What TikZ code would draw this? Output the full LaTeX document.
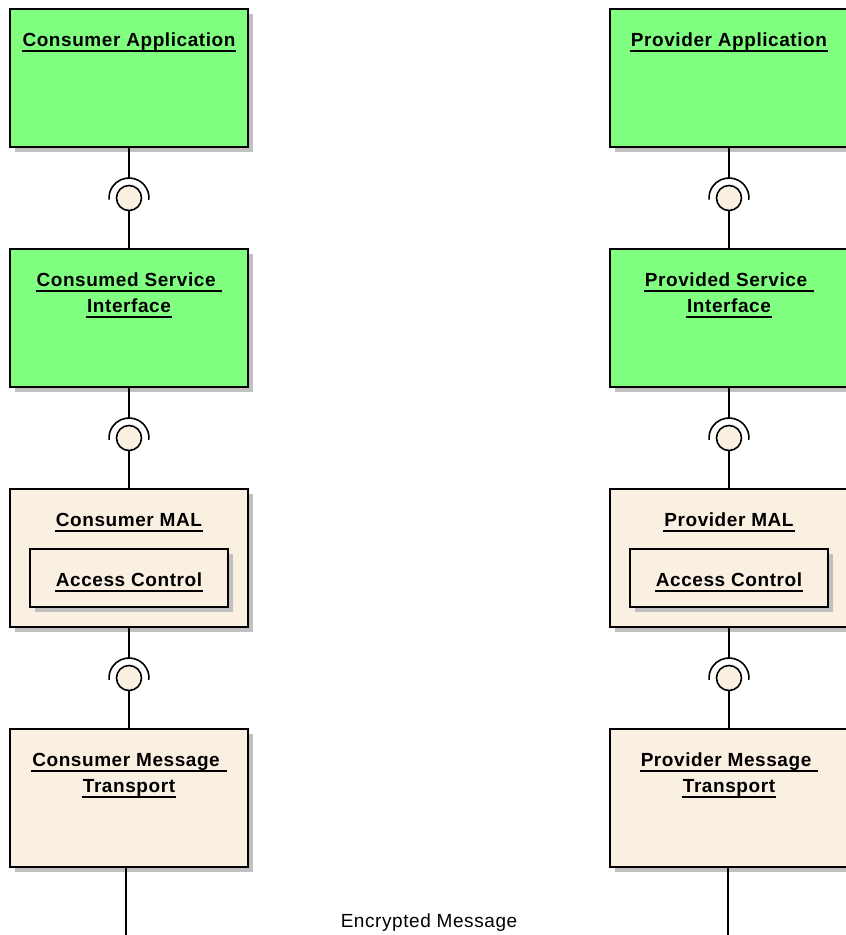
\documentclass[tikz,border=0pt]{standalone}
\usepackage{fontspec}
\setmainfont[LetterSpace=3]{Liberation Sans}
\usetikzlibrary{calc, positioning, shadows}
\definecolor{compGreen}{RGB}{128,255,128}
\definecolor{compBeige}{RGB}{250,240,225}
\definecolor{shadowGray}{RGB}{192,192,192}
\newcommand{\ultitle}[1]{\setbox0\hbox{#1}\rlap{\kern-1pt\vrule height -4pt depth 5.7pt width \dimexpr\wd0+2pt\relax}\box0}

\begin{document}
\begin{tikzpicture}[x=1pt, y=-1pt,
    comp/.style={draw=black, line width=1.6pt, outer sep=0pt, inner sep=0pt,
        minimum width=238pt, minimum height=138pt,
        drop shadow={shadow xshift=5pt, shadow yshift=-5pt, fill=shadowGray, opacity=1}},
    appbox/.style={comp, fill=compGreen},
    malbox/.style={comp, fill=compBeige},
    accbox/.style={malbox, minimum width=198pt, minimum height=58pt},
    title/.style={font=\fontsize{19}{26}\selectfont\bfseries, align=center, inner sep=0pt, anchor=base},
    wire/.style={line width=1.6pt},
    ball/.style={circle, draw, line width=1.6pt, fill=compBeige, minimum size=25pt, inner sep=0pt}]
    \clip (0,0) rectangle (846,935);

    % consumer side
    \node[appbox] (consApp) at (129,78) {};
    \node[appbox] (consIface) at (129,318) {};
    \node[malbox] (consMal) at (129,558) {};
    \node[accbox] (consAcc) at ([yshift=-20pt]consMal.center) {};
    \node[malbox] (consTrans) at (129,798) {};

    % provider side
    \node[appbox] (provApp) at (729,78) {};
    \node[appbox] (provIface) at (729,318) {};
    \node[malbox] (provMal) at (729,558) {};
    \node[accbox] (provAcc) at ([yshift=-20pt]provMal.center) {};
    \node[malbox] (provTrans) at (729,798) {};

    % titles (two-line titles sit on their last line)
    \node[title] (consAppT) at ([yshift=-37pt]consApp.north) {\ultitle{Consumer Application}};
    \node[title] (consIfaceT) at ([yshift=-63pt]consIface.north) {\ultitle{Consumed Service }\\\ultitle{Interface}};
    \node[title] (consMalT) at ([yshift=-37pt]consMal.north) {\ultitle{Consumer MAL}};
    \node[title] (consAccT) at ([yshift=-37pt]consAcc.north) {\ultitle{Access Control}};
    \node[title] (consTransT) at ([yshift=-63pt]consTrans.north) {\ultitle{Consumer Message }\\\ultitle{Transport}};
    \node[title] (provAppT) at ([yshift=-37pt]provApp.north) {\ultitle{Provider Application}};
    \node[title] (provIfaceT) at ([yshift=-63pt]provIface.north) {\ultitle{Provided Service }\\\ultitle{Interface}};
    \node[title] (provMalT) at ([yshift=-37pt]provMal.north) {\ultitle{Provider MAL}};
    \node[title] (provAccT) at ([yshift=-37pt]provAcc.north) {\ultitle{Access Control}};
    \node[title] (provTransT) at ([yshift=-63pt]provTrans.north) {\ultitle{Provider Message }\\\ultitle{Transport}};

    % interfaces between the layers
    \foreach \col in {cons, prov} {
        \foreach \up/\down [count=\i] in {App/Iface, Iface/Mal, Mal/Trans} {
            \path (\col\up.south) -- (\col\down.north) node[ball, midway] (\col Ball\i) {};
            \draw[wire] (\col\up.south) -- ($(\col Ball\i.center)+(0,-20)$);
            \draw[wire] ([shift={(-5:20pt)}]\col Ball\i.center) arc[start angle=-5, end angle=185, radius=20pt];
            \draw[wire] (\col Ball\i) -- (\col\down);
        }
    }

    % message link
    \coordinate (consEnd) at (126,935);
    \coordinate (provEnd) at (728,935);
    \draw[wire] (consEnd |- consTrans.south) -- (consEnd);
    \draw[wire] (provEnd |- provTrans.south) -- (provEnd);
    \node[font=\fontsize{19}{22}\selectfont, inner sep=0pt, anchor=base] (msgLabel) at (429,927) {Encrypted Message};
\end{tikzpicture}
\end{document}
